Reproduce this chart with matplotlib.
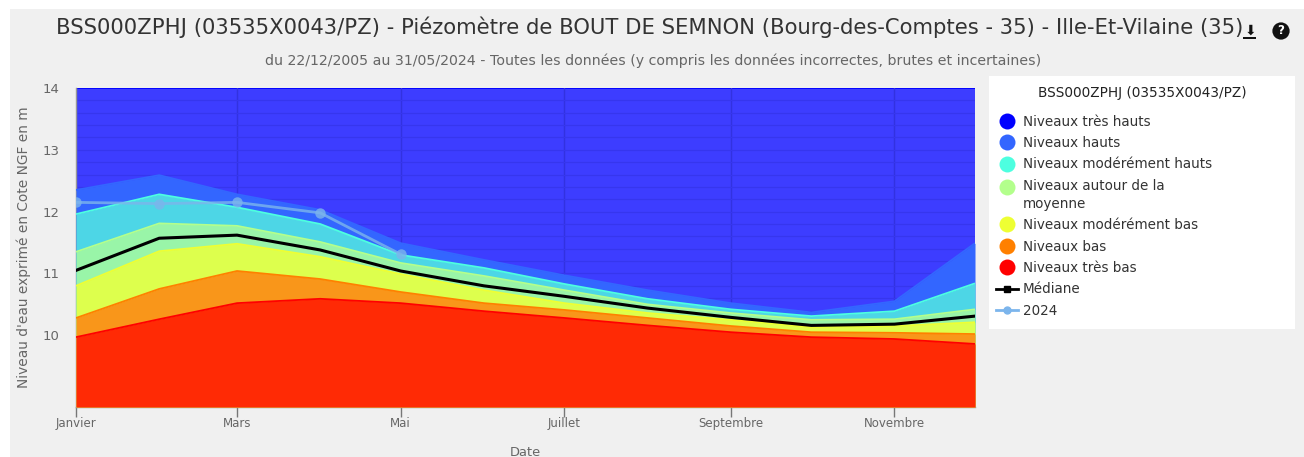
import matplotlib
matplotlib.use("Agg")
import matplotlib.pyplot as plt
from matplotlib.lines import Line2D
from matplotlib.patches import Rectangle

W, H = 1304, 457
doy = [0, 31, 60, 91, 121, 152, 182, 213, 244, 274, 305, 335]
tick_days = [0, 60, 121, 182, 244, 305]
tick_labels = ["Janvier", "Mars", "Mai", "Juillet", "Septembre", "Novembre"]

very_high = [14] * 12
high = [12.35, 12.59, 12.28, 12.03, 11.49, 11.22, 10.97, 10.73, 10.52, 10.37, 10.55, 11.49]
mod_high = [11.96, 12.28, 12.07, 11.80, 11.30, 11.09, 10.83, 10.59, 10.42, 10.31, 10.39, 10.84]
around = [11.35, 11.81, 11.77, 11.51, 11.17, 10.96, 10.73, 10.50, 10.36, 10.25, 10.26, 10.42]
median = [11.05, 11.57, 11.62, 11.38, 11.04, 10.80, 10.63, 10.44, 10.29, 10.16, 10.18, 10.31]
mod_low = [10.80, 11.36, 11.48, 11.27, 10.99, 10.73, 10.52, 10.36, 10.25, 10.13, 10.15, 10.21]
low = [10.28, 10.75, 11.04, 10.91, 10.70, 10.52, 10.41, 10.28, 10.15, 10.05, 10.04, 10.02]
very_low = [9.97, 10.26, 10.52, 10.59, 10.52, 10.39, 10.28, 10.16, 10.05, 9.97, 9.94, 9.86]
y2024 = [12.15, 12.13, 12.15, 11.98, 11.31]
doy2024 = doy[:5]

bands = [
    ("Niveaux très hauts", very_high, "#3D3DFF", "#0000FF"),
    ("Niveaux hauts", high, "#3366FF", "#3366FF"),
    ("Niveaux modérément hauts", mod_high, "#4DD6E6", "#4DFFE0"),
    ("Niveaux autour de la\nmoyenne", around, "#99F5A8", "#B3FF8C"),
    ("Niveaux modérément bas", mod_low, "#DDFF4D", "#EEFF33"),
    ("Niveaux bas", low, "#F9961A", "#FF8000"),
    ("Niveaux très bas", very_low, "#FF2A05", "#FF0000"),
]

GREY = "#666666"
plt.rcParams["font.family"] = ["DejaVu Sans"]
fig = plt.figure(figsize=(W / 100, H / 100), dpi=100, facecolor="white")


def fx(x):
    return x / W


def fy(y):
    return 1 - y / H


fig.add_artist(Rectangle((fx(10), 0), fx(W - 10), fy(9), transform=fig.transFigure,
                         facecolor="#F0F0F0", edgecolor="none", zorder=-5))
fig.add_artist(Rectangle((fx(989), fy(329)), fx(306), (329 - 76) / H, transform=fig.transFigure,
                         facecolor="white", edgecolor="none", zorder=-4))

ax = fig.add_axes([fx(76), fy(407), fx(975 - 76), (407 - 88) / H])
ax.set_xlim(0, 335)
ax.set_ylim(8.84, 14)

base = 8.84
for i, (name, vals, fill, edge) in enumerate(bands):
    z = 2 + i * 0.1 + (0 if i == 0 else 1)
    ax.fill_between(doy, vals, base, color=fill, lw=0, zorder=z)
    ax.plot(doy, vals, color=edge, lw=1.3, zorder=z + 0.05, solid_capstyle="butt")

# grid sits just above the top band only, later bands cover it
for d in tick_days:
    ax.axvline(d, color="#3232E0", lw=1, zorder=2.5)
minor = [v / 5 for v in range(45, 70)]
for v in minor:
    ax.axhline(v, color="#3636EE", lw=0.9, zorder=2.5)

ax.plot(doy, median, color="black", lw=2.2, zorder=5)
ax.plot(doy2024, y2024, color="#7CB5EC", alpha=0.8, lw=2, marker="o", ms=7.5, mew=0, zorder=6)

for s in ["top", "right"]:
    ax.spines[s].set_visible(False)
for s in ["left", "bottom"]:
    ax.spines[s].set_color("#999999")
    ax.spines[s].set_linewidth(1)
ax.set_xticks(tick_days)
ax.set_xticklabels(tick_labels, fontsize=8.5, color=GREY)
ax.set_yticks([10, 11, 12, 13, 14])
ax.set_yticklabels(["10", "11", "12", "13", "14"], fontsize=9.5, color=GREY)
ax.tick_params(axis="x", length=7.5, width=1, color="#777777", pad=-0.5)
ax.tick_params(axis="y", length=0, pad=12)

fig.text(fx(24), fy(247), "Niveau d'eau exprimé en Cote NGF en m", rotation=90, ha="center", va="center",
         fontsize=9.9, color=GREY)
fig.text(fx(525), fy(452), "Date", ha="center", va="center", fontsize=9.4, color=GREY)

fig.text(fx(650), fy(27), "BSS000ZPHJ (03535X0043/PZ) - Piézomètre de BOUT DE SEMNON (Bourg-des-Comptes - 35) - Ille-Et-Vilaine (35)",
         ha="center", va="center", fontsize=15.2, color="#333333")
fig.text(fx(653), fy(61), "du 22/12/2005 au 31/05/2024 - Toutes les données (y compris les données incorrectes, brutes et incertaines)",
         ha="center", va="center", fontsize=10.15, color=GREY)

# toolbar icons
fig.text(fx(1250), fy(31), "⬇", ha="center", va="center", fontsize=10, color="#111111")
fig.add_artist(Rectangle((fx(1243), fy(39)), fx(13), 2 / H, transform=fig.transFigure, facecolor="#111111", edgecolor="none"))
fig.text(fx(1281), fy(31), "?", ha="center", va="center", fontsize=8.5, fontweight="bold", color="white",
         bbox=dict(boxstyle="circle,pad=0.18", facecolor="#111111", edgecolor="none"))

# legend
handles = [Line2D([], [], ls="", marker="o", ms=11.5, mfc=edge, mec="none", label=name)
           for name, vals, fill, edge in bands]
handles.append(Line2D([], [], color="black", lw=2, marker="s", ms=5, label="Médiane"))
handles.append(Line2D([], [], color="#7CB5EC", lw=2, marker="o", ms=5, label="2024"))
leg = fig.legend(handles=handles, loc="upper left", bbox_to_anchor=(fx(996), fy(114.5)),
                 frameon=False, fontsize=9.75, labelcolor="#333333", borderpad=0, borderaxespad=0,
                 handlelength=1.6, handletextpad=0.37, labelspacing=0.55)
for t in leg.get_texts():
    t.set_linespacing(1.35)
for ln in leg.findobj(Line2D):
    if ln.get_marker() == "o" and str(ln.get_markerfacecolor()) == "#B3FF8C":
        ln.set_ydata([y + 6.5 for y in ln.get_ydata()])
fig.text(fx(1142), fy(93), "BSS000ZPHJ (03535X0043/PZ)", ha="center", va="center", fontsize=9.85, color="#222222")

fig.savefig("out.png", dpi=100, facecolor="white")
